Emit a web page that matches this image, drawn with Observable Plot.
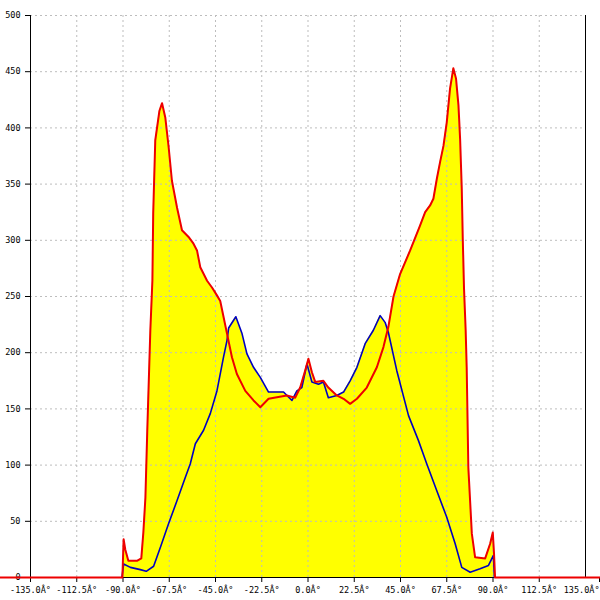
<!DOCTYPE html>
<html>
<head>
<meta charset="utf-8">
<script src="https://cdn.jsdelivr.net/npm/d3@7"></script>
<script src="https://cdn.jsdelivr.net/npm/@observablehq/plot@0.6"></script>
<style>
  html, body { margin: 0; padding: 0; background: #fff; }
</style>
</head>
<body>
<div id="chart"></div>
<script>
const xTicks = [-135, -112.5, -90, -67.5, -45, -22.5, 0, 22.5, 45, 67.5, 90, 112.5, 135];
const yTicks = [0, 50, 100, 150, 200, 250, 300, 350, 400, 450, 500];
const frameX = [-135, 135];

const redAngle = [-150, -90.3, -89.7, -88.9, -87.4, -83.0, -81.1, -80.1, -79.1, -78.2, -76.7, -75.7, -75.3, -74.3, -72.3, -71.0, -69.4, -67.8, -66.2, -63.7, -61.3, -58.1, -55.7, -54.0, -52.4, -49.1, -46.7, -44.3, -42.7, -41.1, -39.4, -37.0, -34.6, -30.5, -26.5, -23.2, -19.2, -15.1, -10.3, -6.2, -3.8, -1.4, 0.2, 1.9, 3.5, 7.5, 9.9, 14.0, 17.3, 20.5, 23.8, 28.6, 33.5, 36.7, 39.1, 41.6, 44.8, 49.7, 54.5, 57.0, 59.4, 61.0, 62.7, 64.3, 65.9, 67.5, 69.1, 70.7, 72.0, 73.2, 74.0, 74.8, 75.3, 75.9, 76.7, 77.2, 78.0, 79.7, 81.3, 86.2, 88.6, 89.9, 90.5, 91.0, 145];
const redValue = [0, 0, 34, 25, 15, 15, 17, 40, 71, 130, 220, 264, 324, 389, 415, 422, 409, 383, 353, 329, 309, 303, 297, 291, 276, 264, 258, 251, 246, 232, 217, 196, 181, 166, 157.5, 151.5, 159, 160.4, 162, 160, 169, 184, 194.6, 182.6, 174, 175, 169, 162, 159, 154.5, 159, 169, 187, 205, 223, 250, 270, 291, 313, 325, 331, 337, 355, 370, 384, 405, 435, 453, 444, 420, 390, 346, 301, 257, 220, 187, 98, 39, 18, 17, 30, 40, 21, 0, 0];

const blueAngle = [-90.5, -89.7, -86.4, -81.6, -78.7, -75.1, -71.8, -67.8, -63.7, -59.7, -57.3, -54.8, -50.8, -47.5, -44.3, -41.1, -39.4, -38.6, -35.1, -32.1, -29.7, -26.5, -23.2, -19.2, -14.3, -11.9, -7.8, -5.4, -3.0, -0.5, 1.9, 5.1, 7.5, 9.9, 14.0, 17.3, 20.5, 23.8, 27.8, 31.8, 35.1, 37.5, 39.1, 43.2, 48.9, 53.7, 57.8, 62.7, 67.5, 71.6, 74.8, 78.9, 83.7, 87.8, 90.2, 90.7];
const blueValue = [0, 12, 9, 7, 5.5, 10, 27, 48, 68.5, 89, 101, 119, 131, 146, 166, 196, 211, 222, 232, 217, 199, 187, 178, 165, 165, 165, 157.5, 166, 169, 190, 174, 172, 174, 160, 162, 165, 175, 187, 208, 220, 233, 227, 218, 184, 144, 122, 101, 77, 53.6, 30, 9, 4.7, 7.7, 10.7, 19.6, 0];

const red = redAngle.map((a, i) => ({angle: a, value: redValue[i]}));
const blue = blueAngle.map((a, i) => ({angle: a, value: blueValue[i]}));

const fmt = d => d.toFixed(1) + "Â°";
const gridStyle = {stroke: "#bdbdbd", strokeOpacity: 1, strokeDasharray: "2,3"};
const lastTick = xTicks[xTicks.length - 1];

const chart = Plot.plot({
  width: 600,
  height: 600,
  marginTop: 15,
  marginBottom: 23,
  marginLeft: 30,
  marginRight: 15,
  style: {fontFamily: "DejaVu Sans Mono", fontSize: "8.5px", color: "#000", background: "#fff"},
  x: {domain: [-135, 135], label: null},
  y: {domain: [0, 500], label: null},
  marks: [
    Plot.areaY(red, {x: "angle", y: "value", fill: "#ffff00", clip: false}),
    Plot.areaY(blue, {x: "angle", y: "value", fill: "#ffff00"}),
    Plot.gridX(xTicks, {...gridStyle}),
    Plot.gridY(yTicks.filter(d => d > 0), {...gridStyle}),
    Plot.ruleX(frameX, {stroke: "#000", strokeWidth: 1}),
    Plot.ruleY([0], {stroke: "#000", strokeWidth: 1}),
    Plot.axisX({ticks: xTicks.filter(d => d !== lastTick), tickFormat: fmt, tickSize: 5, tickPadding: 4, label: null, stroke: "#000", fill: "#000"}),
    Plot.axisX({ticks: [lastTick], tickFormat: fmt, tickSize: 5, tickPadding: 4, label: null, stroke: "#000", fill: "#000", textAnchor: "end", dx: 14}),
    Plot.axisY({ticks: yTicks, tickSize: 5, tickPadding: 5, label: null, stroke: "#000", fill: "#000"}),
    Plot.line(blue, {x: "angle", y: "value", stroke: "#0000c0", strokeWidth: 1.6}),
    Plot.line(red, {x: "angle", y: "value", stroke: "#ee0000", strokeWidth: 2, clip: false})
  ]
});
document.getElementById("chart").appendChild(chart);
</script>
</body>
</html>
